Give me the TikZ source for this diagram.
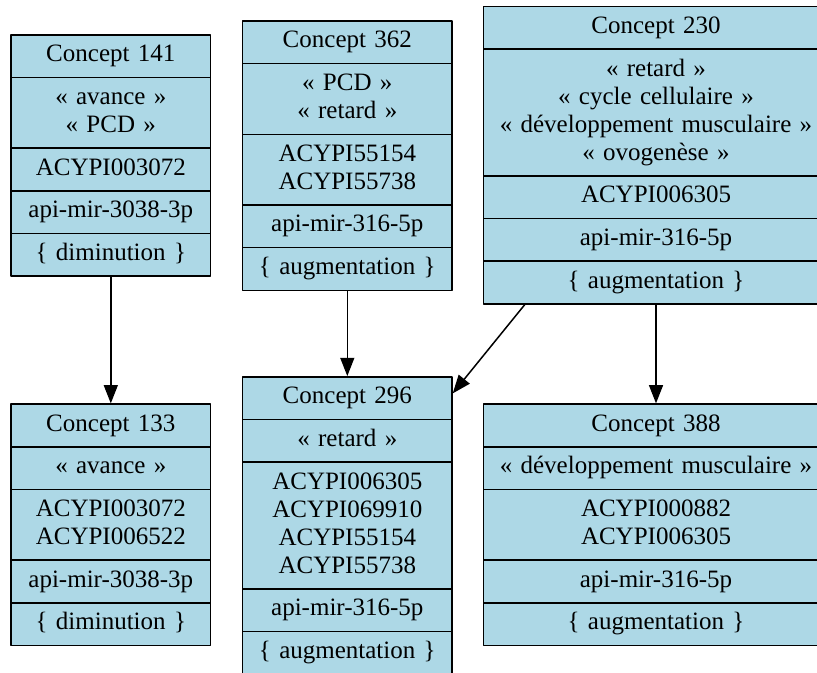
\documentclass[tikz,border=0pt]{standalone}
\usepackage{fontspec}
\setmainfont{Liberation Serif}
\usetikzlibrary{shapes.multipart,arrows.meta,calc}
\definecolor{lightblue}{HTML}{ADD8E6}
\begin{document}
\begin{tikzpicture}[x=0.6pt, y=-0.6pt, line join=round, >={Triangle[length=11pt,width=8.4pt]},
	concept/.style={rectangle split, rectangle split parts=5, draw=black, line width=0.9pt, fill=lightblue,
		align=center, inner xsep=4pt, inner ysep=3.95pt, font=\fontsize{15}{16.8}\selectfont},
	edge/.style={->, line width=0.9pt}]
					\useasboundingbox (0,0) rectangle (817,672);
					\clip (0,0) rectangle (817,672);
					\def\wa{111.8pt}
					\def\wb{117.6pt}
					\def\wc{199pt}
					\node[concept, text width=\wa] (n141) at (110.8,155.5) {\strut Concept 141\nodepart{two}\strut« avance »\\\strut« PCD »\nodepart{three}\strut ACYPI003072\nodepart{four}\strut api-mir-3038-3p\nodepart{five}\strut\{ diminution \}};
					\node[concept, text width=\wb] (n362) at (347.3,155.7) {\strut Concept 362\nodepart{two}\strut« PCD »\\\strut« retard »\nodepart{three}\strut ACYPI55154\\\strut ACYPI55738\nodepart{four}\strut api-mir-316-5p\nodepart{five}\strut\{ augmentation \}};
					\node[concept, text width=\wc] (n230) at (656,155.2) {\strut Concept 230\nodepart{two}\strut« retard »\\\strut« cycle cellulaire »\\\strut« développement musculaire »\\\strut« ovogenèse »\nodepart{three}\strut ACYPI006305\nodepart{four}\strut api-mir-316-5p\nodepart{five}\strut\{ augmentation \}};
					\node[concept, text width=\wa] (n133) at (110.8,524.8) {\strut Concept 133\nodepart{two}\strut« avance »\nodepart{three}\strut ACYPI003072\\\strut ACYPI006522\nodepart{four}\strut api-mir-3038-3p\nodepart{five}\strut\{ diminution \}};
					\node[concept, text width=\wb] (n296) at (347.3,525.5) {\strut Concept 296\nodepart{two}\strut« retard »\nodepart{three}\strut ACYPI006305\\\strut ACYPI069910\\\strut ACYPI55154\\\strut ACYPI55738\nodepart{four}\strut api-mir-316-5p\nodepart{five}\strut\{ augmentation \}};
					\node[concept, text width=\wc] (n388) at (656,524.8) {\strut Concept 388\nodepart{two}\strut« développement musculaire »\nodepart{three}\strut ACYPI000882\\\strut ACYPI006305\nodepart{four}\strut api-mir-316-5p\nodepart{five}\strut\{ augmentation \}};
					\draw[edge] (n141.south) -- (n133.north);
					\draw[edge] (n362.south) -- (n296.north);
					\draw[edge] (n230.south) -- (n388.north);
					\draw[edge] ($(n230.south west)+(42,0)$) -- ($(n296.north east)+(0,17.3)$);
				\end{tikzpicture}
\end{document}
